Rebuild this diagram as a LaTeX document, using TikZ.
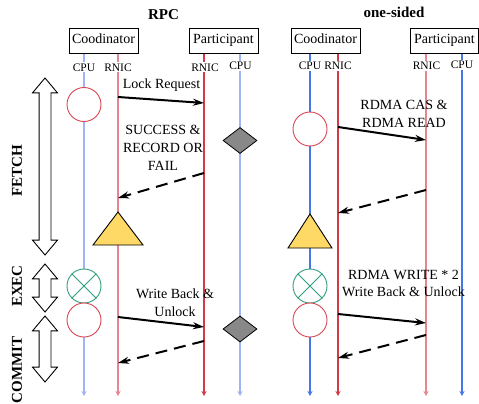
\documentclass[tikz,border=0pt]{standalone}
\usepackage{fontspec}
\setmainfont{Liberation Serif}
\usetikzlibrary{arrows.meta, shapes.geometric, shapes.arrows}

\definecolor{cpuLight}{HTML}{9FB3F5}
\definecolor{cpuDark}{HTML}{4677E6}
\definecolor{nicLight}{HTML}{E8848F}
\definecolor{nicDark}{HTML}{D33A48}
\definecolor{opRed}{HTML}{D94452}
\definecolor{exGreen}{HTML}{2E9E80}
\definecolor{lockYellow}{HTML}{FFD966}
\definecolor{workGray}{HTML}{888888}

\begin{document}
\begin{tikzpicture}[x=1pt, y=-1pt]
    % Styles
    \tikzstyle{actor} = [rectangle, draw=black, line width=0.9pt, minimum width=69pt, minimum height=25pt, inner sep=0pt, font=\fontsize{14}{17}\selectfont, text height=10pt, text depth=4pt]
    \tikzstyle{unit} = [fill=white, inner sep=1pt, anchor=base, font=\fontsize{11.5}{13}\selectfont]
    \tikzstyle{life} = [line width=1.2pt, -{Stealth[length=5pt, width=5pt]}]
    \tikzstyle{msg} = [line width=2pt, -{Stealth[length=11pt, width=7pt]}]
    \tikzstyle{reply} = [msg, dash pattern=on 12pt off 7pt]
    \tikzstyle{lbl} = [anchor=base, align=center, inner sep=0pt, font=\fontsize{14}{18}\selectfont]
    \tikzstyle{title} = [anchor=base, inner sep=0pt, font=\fontsize{15}{17}\selectfont\bfseries]
    \tikzstyle{op} = [circle, draw=opRed, line width=0.9pt, fill=white, minimum size=34pt, inner sep=0pt]
    \tikzstyle{exe} = [op, draw=exGreen]
    \tikzstyle{work} = [diamond, aspect=1.3, draw=black, line width=0.8pt, fill=workGray, minimum width=34pt, minimum height=26pt, inner sep=0pt]
    \tikzstyle{lockwait} = [draw=black, line width=0.9pt, fill=lockYellow]
    \tikzstyle{phase} = [double arrow, draw=black, line width=0.9pt, fill=white, minimum width=24pt, double arrow head extend=6.5pt, double arrow tip angle=80, inner xsep=0pt, inner ysep=5.5pt, rotate=90]
    \tikzstyle{phaselbl} = [rotate=90, inner sep=0pt, font=\fontsize{15}{17}\selectfont\bfseries]

    \useasboundingbox (0,0) rectangle (479,404);

    % Titles
    \node[title] (rpc) at (163.5,20) {RPC};
    \node[title] (onesided) at (394,17.5) {one-sided};

    % Lifelines
    \coordinate (rCpuT) at (84,53);    \coordinate (rCpuB) at (84,396);
    \coordinate (rNicT) at (118,53);   \coordinate (rNicB) at (118,396);
    \coordinate (rpNicT) at (204,53);  \coordinate (rpNicB) at (204,396);
    \coordinate (rpCpuT) at (240,53);  \coordinate (rpCpuB) at (240,396);
    \coordinate (oCpuT) at (310,53);   \coordinate (oCpuB) at (310,396);
    \coordinate (oNicT) at (338,53);   \coordinate (oNicB) at (338,396);
    \coordinate (opNicT) at (426,53);  \coordinate (opNicB) at (426,396);
    \coordinate (opCpuT) at (462,53);  \coordinate (opCpuB) at (462,396);

    \draw[life, cpuLight] (rCpuT) -- (rCpuB);
    \draw[life, nicLight] (rNicT) -- (rNicB);
    \draw[life, nicDark] (rpNicT) -- (rpNicB);
    \draw[life, cpuLight] (rpCpuT) -- (rpCpuB);
    \draw[life, cpuDark] (oCpuT) -- (oCpuB);
    \draw[life, nicDark] (oNicT) -- (oNicB);
    \draw[life, nicLight] (opNicT) -- (opNicB);
    \draw[life, cpuDark] (opCpuT) -- (opCpuB);

    % Actors
    \node[actor] (rCoord) at (103.5,40.5) {Coodinator};
    \node[actor] (rPart) at (223.5,40.5) {Participant};
    \node[actor] (oCoord) at (325.5,40.5) {Coodinator};
    \node[actor, minimum width=68pt] (oPart) at (444.5,40.5) {Participant};

    \node[unit] (rCpuL) at (84,71) {CPU};
    \node[unit] (rNicL) at (118,71) {RNIC};
    \node[unit] (rpNicL) at (205,71) {RNIC};
    \node[unit] (rpCpuL) at (240.5,69.5) {CPU};
    \node[unit] (oCpuL) at (310,70) {CPU};
    \node[unit] (oNicL) at (338,70) {RNIC};
    \node[unit] (opNicL) at (426.5,70) {RNIC};
    \node[unit] (opCpuL) at (462,68.5) {CPU};

    % Phases
    \node[phase, minimum height=177pt] (fetch) at (45,166.5) {};
    \node[phase, minimum height=48pt] (exec) at (45,288) {};
    \node[phase, minimum height=66pt] (commit) at (45,349) {};
    \node[phaselbl] (fetchL) at (17,171) {FETCH};
    \node[phaselbl] (execL) at (17,286) {EXEC};
    \node[phaselbl] (commitL) at (17,370) {COMMIT};

    % RPC side
    \node[op] (rFetch) at (84,104.5) {};
    \node[work] (rpWork1) at (240,140.5) {};
    \filldraw[lockwait] (118,212) -- (143,245) -- (93,245) -- cycle;
    \node[exe] (rExec) at (84,286) {};
    \draw[exGreen, line width=0.9pt] (rExec.45) -- (rExec.225) (rExec.135) -- (rExec.315);
    \node[op] (rCommit) at (84,320) {};
    \node[work] (rpWork2) at (240,329) {};

    \coordinate (lockS) at (118,97);    \coordinate (lockE) at (204,103);
    \coordinate (ackS) at (204,173);    \coordinate (ackE) at (118,198);
    \coordinate (wbS) at (118,317);     \coordinate (wbE) at (204,327);
    \coordinate (wbAckS) at (204,341);  \coordinate (wbAckE) at (118,363);

    \draw[msg] (lockS) -- (lockE);
    \draw[reply] (ackS) -- (ackE);
    \draw[msg] (wbS) -- (wbE);
    \draw[reply] (wbAckS) -- (wbAckE);

    % multi-line labels sit on their last line
    \node[lbl] (lockL) at (161.5,88.5) {Lock Request};
    \node[lbl] (ackL) at (163,170) {SUCCESS \&\\RECORD OR\\FAIL};
    \node[lbl] (wbL) at (175,316) {Write Back \&\\Unlock};

    % One-sided side
    \node[op] (oFetch) at (310,129) {};
    \filldraw[lockwait] (310,214) -- (332,248) -- (288,248) -- cycle;
    \node[exe] (oExec) at (310,286) {};
    \draw[exGreen, line width=0.9pt] (oExec.45) -- (oExec.225) (oExec.135) -- (oExec.315);
    \node[op] (oCommit) at (310,320) {};

    \coordinate (casS) at (338,127);    \coordinate (casE) at (426,140);
    \coordinate (casAckS) at (426,190); \coordinate (casAckE) at (338,213);
    \coordinate (wrS) at (338,314);     \coordinate (wrE) at (426,323);
    \coordinate (wrAckS) at (426,335);  \coordinate (wrAckE) at (338,358);

    \draw[msg] (casS) -- (casE);
    \draw[reply] (casAckS) -- (casAckE);
    \draw[msg] (wrS) -- (wrE);
    \draw[reply] (wrAckS) -- (wrAckE);

    \node[lbl] (casL) at (404,127) {RDMA CAS \&\\RDMA READ};
    \node[lbl, font=\fontsize{14}{16.5}\selectfont] (wrL) at (403.5,296) {RDMA WRITE * 2\\Write Back \& Unlock};
\end{tikzpicture}
\end{document}
